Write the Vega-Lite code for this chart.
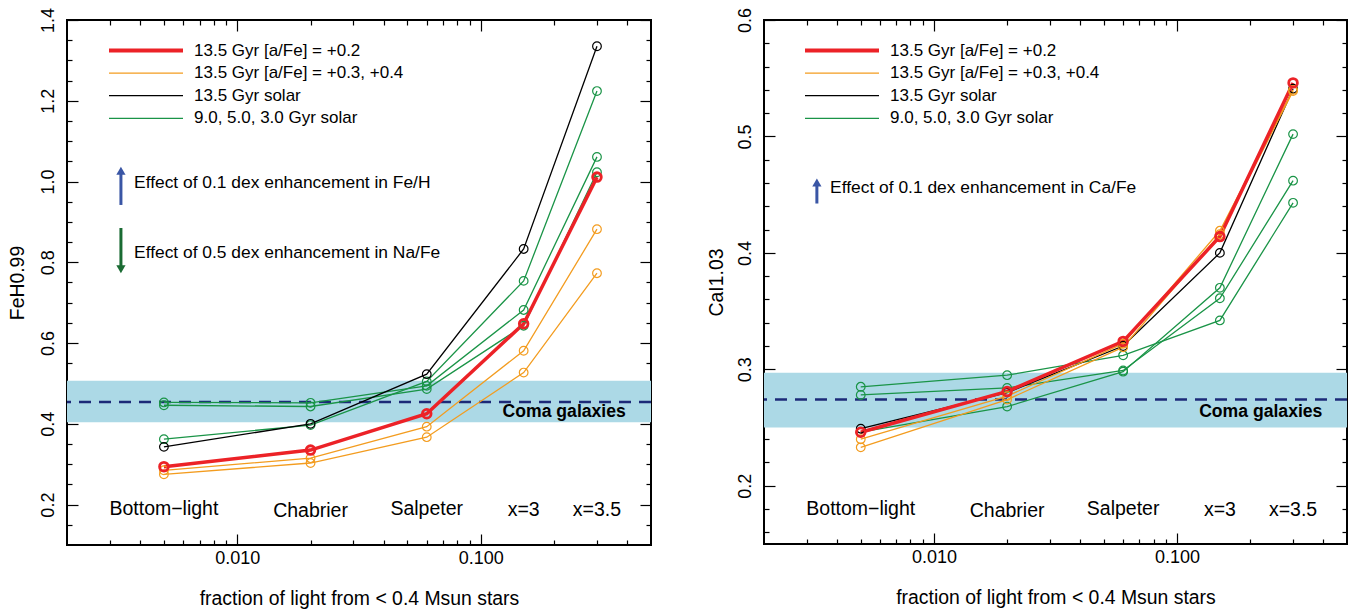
{
  "$schema": "https://vega.github.io/schema/vega-lite/v6.json",
  "background": "white",
  "padding": {"left": 6, "top": 6, "right": 5, "bottom": 5},
  "spacing": 51,
  "config": {
    "font": "Liberation Sans",
    "view": {"stroke": "black", "strokeWidth": 2},
    "axis": {"labelFont": "Liberation Sans", "titleFont": "Liberation Sans", "labelColor": "black", "titleColor": "black", "tickColor": "black", "tickWidth": 1.2, "domain": false, "grid": false, "titleFontWeight": "normal", "labelFontSize": 18, "titleFontSize": 19.4},
    "text": {"font": "Liberation Sans", "color": "black"}
  },
  "datasets": {
    "fehLines": [
      {"s": "g9", "m": "9.0, 5.0, 3.0 Gyr solar", "f": 0.005, "v": 0.362}, {"s": "g9", "m": "9.0, 5.0, 3.0 Gyr solar", "f": 0.02, "v": 0.397}, {"s": "g9", "m": "9.0, 5.0, 3.0 Gyr solar", "f": 0.06, "v": 0.505}, {"s": "g9", "m": "9.0, 5.0, 3.0 Gyr solar", "f": 0.15, "v": 0.754}, {"s": "g9", "m": "9.0, 5.0, 3.0 Gyr solar", "f": 0.3, "v": 1.224},
      {"s": "g5", "m": "9.0, 5.0, 3.0 Gyr solar", "f": 0.005, "v": 0.453}, {"s": "g5", "m": "9.0, 5.0, 3.0 Gyr solar", "f": 0.02, "v": 0.452}, {"s": "g5", "m": "9.0, 5.0, 3.0 Gyr solar", "f": 0.06, "v": 0.494}, {"s": "g5", "m": "9.0, 5.0, 3.0 Gyr solar", "f": 0.15, "v": 0.682}, {"s": "g5", "m": "9.0, 5.0, 3.0 Gyr solar", "f": 0.3, "v": 1.061},
      {"s": "g3", "m": "9.0, 5.0, 3.0 Gyr solar", "f": 0.005, "v": 0.446}, {"s": "g3", "m": "9.0, 5.0, 3.0 Gyr solar", "f": 0.02, "v": 0.443}, {"s": "g3", "m": "9.0, 5.0, 3.0 Gyr solar", "f": 0.06, "v": 0.486}, {"s": "g3", "m": "9.0, 5.0, 3.0 Gyr solar", "f": 0.15, "v": 0.643}, {"s": "g3", "m": "9.0, 5.0, 3.0 Gyr solar", "f": 0.3, "v": 1.023},
      {"s": "k", "m": "13.5 Gyr solar", "f": 0.005, "v": 0.343}, {"s": "k", "m": "13.5 Gyr solar", "f": 0.02, "v": 0.400}, {"s": "k", "m": "13.5 Gyr solar", "f": 0.06, "v": 0.523}, {"s": "k", "m": "13.5 Gyr solar", "f": 0.15, "v": 0.833}, {"s": "k", "m": "13.5 Gyr solar", "f": 0.3, "v": 1.335},
      {"s": "o1", "m": "13.5 Gyr [a/Fe] = +0.3, +0.4", "f": 0.005, "v": 0.285}, {"s": "o1", "m": "13.5 Gyr [a/Fe] = +0.3, +0.4", "f": 0.02, "v": 0.315}, {"s": "o1", "m": "13.5 Gyr [a/Fe] = +0.3, +0.4", "f": 0.06, "v": 0.393}, {"s": "o1", "m": "13.5 Gyr [a/Fe] = +0.3, +0.4", "f": 0.15, "v": 0.581}, {"s": "o1", "m": "13.5 Gyr [a/Fe] = +0.3, +0.4", "f": 0.3, "v": 0.882},
      {"s": "o2", "m": "13.5 Gyr [a/Fe] = +0.3, +0.4", "f": 0.005, "v": 0.275}, {"s": "o2", "m": "13.5 Gyr [a/Fe] = +0.3, +0.4", "f": 0.02, "v": 0.303}, {"s": "o2", "m": "13.5 Gyr [a/Fe] = +0.3, +0.4", "f": 0.06, "v": 0.367}, {"s": "o2", "m": "13.5 Gyr [a/Fe] = +0.3, +0.4", "f": 0.15, "v": 0.527}, {"s": "o2", "m": "13.5 Gyr [a/Fe] = +0.3, +0.4", "f": 0.3, "v": 0.773},
      {"s": "r", "m": "13.5 Gyr [a/Fe] = +0.2", "f": 0.005, "v": 0.294}, {"s": "r", "m": "13.5 Gyr [a/Fe] = +0.2", "f": 0.02, "v": 0.335}, {"s": "r", "m": "13.5 Gyr [a/Fe] = +0.2", "f": 0.06, "v": 0.425}, {"s": "r", "m": "13.5 Gyr [a/Fe] = +0.2", "f": 0.15, "v": 0.648}, {"s": "r", "m": "13.5 Gyr [a/Fe] = +0.2", "f": 0.3, "v": 1.011}
    ],
    "caiLines": [
      {"s": "g9", "m": "9.0, 5.0, 3.0 Gyr solar", "f": 0.005, "v": 0.246}, {"s": "g9", "m": "9.0, 5.0, 3.0 Gyr solar", "f": 0.02, "v": 0.268}, {"s": "g9", "m": "9.0, 5.0, 3.0 Gyr solar", "f": 0.06, "v": 0.298}, {"s": "g9", "m": "9.0, 5.0, 3.0 Gyr solar", "f": 0.15, "v": 0.370}, {"s": "g9", "m": "9.0, 5.0, 3.0 Gyr solar", "f": 0.3, "v": 0.502},
      {"s": "g5", "m": "9.0, 5.0, 3.0 Gyr solar", "f": 0.005, "v": 0.278}, {"s": "g5", "m": "9.0, 5.0, 3.0 Gyr solar", "f": 0.02, "v": 0.284}, {"s": "g5", "m": "9.0, 5.0, 3.0 Gyr solar", "f": 0.06, "v": 0.299}, {"s": "g5", "m": "9.0, 5.0, 3.0 Gyr solar", "f": 0.15, "v": 0.361}, {"s": "g5", "m": "9.0, 5.0, 3.0 Gyr solar", "f": 0.3, "v": 0.462},
      {"s": "g3", "m": "9.0, 5.0, 3.0 Gyr solar", "f": 0.005, "v": 0.285}, {"s": "g3", "m": "9.0, 5.0, 3.0 Gyr solar", "f": 0.02, "v": 0.295}, {"s": "g3", "m": "9.0, 5.0, 3.0 Gyr solar", "f": 0.06, "v": 0.312}, {"s": "g3", "m": "9.0, 5.0, 3.0 Gyr solar", "f": 0.15, "v": 0.342}, {"s": "g3", "m": "9.0, 5.0, 3.0 Gyr solar", "f": 0.3, "v": 0.443},
      {"s": "k", "m": "13.5 Gyr solar", "f": 0.005, "v": 0.249}, {"s": "k", "m": "13.5 Gyr solar", "f": 0.02, "v": 0.280}, {"s": "k", "m": "13.5 Gyr solar", "f": 0.06, "v": 0.320}, {"s": "k", "m": "13.5 Gyr solar", "f": 0.15, "v": 0.400}, {"s": "k", "m": "13.5 Gyr solar", "f": 0.3, "v": 0.541},
      {"s": "o1", "m": "13.5 Gyr [a/Fe] = +0.3, +0.4", "f": 0.005, "v": 0.240}, {"s": "o1", "m": "13.5 Gyr [a/Fe] = +0.3, +0.4", "f": 0.02, "v": 0.277}, {"s": "o1", "m": "13.5 Gyr [a/Fe] = +0.3, +0.4", "f": 0.06, "v": 0.322}, {"s": "o1", "m": "13.5 Gyr [a/Fe] = +0.3, +0.4", "f": 0.15, "v": 0.419}, {"s": "o1", "m": "13.5 Gyr [a/Fe] = +0.3, +0.4", "f": 0.3, "v": 0.540},
      {"s": "o2", "m": "13.5 Gyr [a/Fe] = +0.3, +0.4", "f": 0.005, "v": 0.233}, {"s": "o2", "m": "13.5 Gyr [a/Fe] = +0.3, +0.4", "f": 0.02, "v": 0.274}, {"s": "o2", "m": "13.5 Gyr [a/Fe] = +0.3, +0.4", "f": 0.06, "v": 0.319}, {"s": "o2", "m": "13.5 Gyr [a/Fe] = +0.3, +0.4", "f": 0.15, "v": 0.416}, {"s": "o2", "m": "13.5 Gyr [a/Fe] = +0.3, +0.4", "f": 0.3, "v": 0.539},
      {"s": "r", "m": "13.5 Gyr [a/Fe] = +0.2", "f": 0.005, "v": 0.246}, {"s": "r", "m": "13.5 Gyr [a/Fe] = +0.2", "f": 0.02, "v": 0.281}, {"s": "r", "m": "13.5 Gyr [a/Fe] = +0.2", "f": 0.06, "v": 0.324}, {"s": "r", "m": "13.5 Gyr [a/Fe] = +0.2", "f": 0.15, "v": 0.414}, {"s": "r", "m": "13.5 Gyr [a/Fe] = +0.2", "f": 0.3, "v": 0.546}
    ],
    "fehComa": [{"lo": 0.404, "mid": 0.454, "hi": 0.507, "f": 0.394, "v": 0.429, "t": "Coma galaxies"}],
    "caiComa": [{"lo": 0.250, "mid": 0.274, "hi": 0.297, "f": 0.396, "v": 0.263, "t": "Coma galaxies"}],
    "fehImf": [
      {"f": 0.005, "v": 0.188, "t": "Bottom−light"}, {"f": 0.02, "v": 0.183, "t": "Chabrier"}, {"f": 0.06, "v": 0.188, "t": "Salpeter"}, {"f": 0.15, "v": 0.186, "t": "x=3"}, {"f": 0.3, "v": 0.186, "t": "x=3.5"}
    ],
    "caiImf": [
      {"f": 0.005, "v": 0.180, "t": "Bottom−light"}, {"f": 0.02, "v": 0.178, "t": "Chabrier"}, {"f": 0.06, "v": 0.180, "t": "Salpeter"}, {"f": 0.15, "v": 0.179, "t": "x=3"}, {"f": 0.3, "v": 0.179, "t": "x=3.5"}
    ],
    "fehEffect": [
      {"f": 0.00377, "v": 0.996, "t": "Effect of 0.1 dex enhancement in Fe/H"},
      {"f": 0.00377, "v": 0.8235, "t": "Effect of 0.5 dex enhancement in Na/Fe"}
    ],
    "caiEffect": [{"f": 0.00374, "v": 0.4554, "t": "Effect of 0.1 dex enhancement in Ca/Fe"}],
    "fehBlueArrow": [{"f": 0.00333, "lo": 0.942, "hi": 1.025, "head": 1.027}],
    "fehGreenArrow": [{"f": 0.00333, "lo": 0.786, "hi": 0.885, "head": 0.783}],
    "caiBlueArrow": [{"f": 0.0033, "lo": 0.4424, "hi": 0.4595, "head": 0.4605}]
  },
  "hconcat": [
    {
      "width": 584,
      "height": 525,
      "resolve": {"scale": {"x": "independent", "y": "independent"}},
      "layer": [
        {
          "data": {"name": "fehComa"},
          "mark": {"type": "rect", "color": "#acd9e6"},
          "encoding": {
            "x": {"datum": 0.002, "type": "quantitative", "scale": {"type": "log", "domain": [0.002, 0.5], "nice": false}, "axis": null},
            "x2": {"datum": 0.5},
            "y": {"field": "lo", "type": "quantitative", "scale": {"domain": [0.1, 1.4], "nice": false, "zero": false}, "axis": null},
            "y2": {"field": "hi"}
          }
        },
        {
          "data": {"name": "fehComa"},
          "mark": {"type": "rule", "color": "#1c2a78", "strokeWidth": 2.5, "strokeDash": [12, 8]},
          "encoding": {
            "y": {"field": "mid", "type": "quantitative", "scale": {"domain": [0.1, 1.4], "nice": false, "zero": false}, "axis": null}
          }
        },
        {
          "data": {"name": "fehLines"},
          "transform": [{"filter": "datum.s != 'r'"}],
          "mark": {"type": "line", "strokeWidth": 1.3},
          "encoding": {
            "x": {"field": "f", "type": "quantitative", "scale": {"type": "log", "domain": [0.002, 0.5], "nice": false},
                  "axis": {"orient": "bottom", "values": [0.01, 0.1], "format": ".3f", "tickSize": -11, "labelPadding": 15, "title": "fraction of light from < 0.4 Msun stars", "titlePadding": 22}},
            "y": {"field": "v", "type": "quantitative", "scale": {"domain": [0.1, 1.4], "nice": false, "zero": false},
                  "axis": {"orient": "left", "values": [0.2, 0.4, 0.6, 0.8, 1.0, 1.2, 1.4], "format": ".1f", "labelAngle": -90, "tickSize": -11, "labelPadding": 21, "title": "FeH0.99", "titlePadding": 12}},
            "color": {"field": "m", "type": "nominal",
                      "scale": {"domain": ["13.5 Gyr [a/Fe] = +0.2", "13.5 Gyr [a/Fe] = +0.3, +0.4", "13.5 Gyr solar", "9.0, 5.0, 3.0 Gyr solar"], "range": ["#ec2227", "#f39c1f", "#000000", "#1a9447"]},
                      "legend": {"orient": "none", "legendX": 41, "legendY": 22, "title": null, "symbolType": "stroke", "symbolSize": 5476, "symbolStrokeWidth": 1.3, "labelFontSize": 17, "labelFont": "Liberation Sans", "labelColor": "black", "labelOffset": 10, "clipHeight": 17, "rowPadding": 4.6, "padding": 0, "labelLimit": 400,
                                 "encode": {"symbols": {"update": {"strokeWidth": {"signal": "(datum.value === '13.5 Gyr [a/Fe] = +0.2' ? 3.8 : 1.3)"}}}}}},
            "detail": {"field": "s"}
          }
        },
        {
          "data": {"name": "fehLines"},
          "transform": [{"filter": "datum.s == 'r'"}],
          "mark": {"type": "line", "strokeWidth": 3.5},
          "encoding": {
            "x": {"field": "f", "type": "quantitative", "scale": {"type": "log", "domain": [0.002, 0.5], "nice": false}, "axis": null},
            "y": {"field": "v", "type": "quantitative", "scale": {"domain": [0.1, 1.4], "nice": false, "zero": false}, "axis": null},
            "color": {"field": "m", "type": "nominal"}
          }
        },
        {
          "data": {"name": "fehLines"},
          "transform": [{"filter": "datum.s != 'r'"}],
          "mark": {"type": "point", "shape": "circle", "filled": false, "size": 75, "strokeWidth": 1.2, "opacity": 1},
          "encoding": {
            "x": {"field": "f", "type": "quantitative", "scale": {"type": "log", "domain": [0.002, 0.5], "nice": false},
                  "axis": {"orient": "top", "values": [0.01, 0.1], "labels": false, "tickSize": -11, "title": null}},
            "y": {"field": "v", "type": "quantitative", "scale": {"domain": [0.1, 1.4], "nice": false, "zero": false},
                  "axis": {"orient": "right", "values": [0.2, 0.4, 0.6, 0.8, 1.0, 1.2, 1.4], "labels": false, "tickSize": -11, "title": null}},
            "color": {"field": "m", "type": "nominal"}
          }
        },
        {
          "data": {"name": "fehLines"},
          "transform": [{"filter": "datum.s == 'r'"}],
          "mark": {"type": "point", "shape": "circle", "filled": false, "size": 75, "strokeWidth": 2.8, "opacity": 1},
          "encoding": {
            "x": {"field": "f", "type": "quantitative", "scale": {"type": "log", "domain": [0.002, 0.5], "nice": false}, "axis": null},
            "y": {"field": "v", "type": "quantitative", "scale": {"domain": [0.1, 1.4], "nice": false, "zero": false}, "axis": null},
            "color": {"field": "m", "type": "nominal"}
          }
        },
        {
          "data": {"name": "fehImf"},
          "mark": {"type": "text", "fontSize": 19.5, "align": "center", "baseline": "middle"},
          "encoding": {
            "x": {"field": "f", "type": "quantitative", "scale": {"type": "log", "domain": [0.002, 0.5], "nice": false},
                  "axis": {"orient": "bottom", "values": [0.003, 0.004, 0.005, 0.006, 0.007, 0.008, 0.009, 0.02, 0.03, 0.04, 0.05, 0.06, 0.07, 0.08, 0.09, 0.2, 0.3, 0.4], "labels": false, "tickSize": -5, "title": null}},
            "y": {"field": "v", "type": "quantitative", "scale": {"domain": [0.1, 1.4], "nice": false, "zero": false},
                  "axis": {"orient": "left", "values": [0.15, 0.25, 0.3, 0.35, 0.45, 0.5, 0.55, 0.65, 0.7, 0.75, 0.85, 0.9, 0.95, 1.05, 1.1, 1.15, 1.25, 1.3, 1.35], "labels": false, "tickSize": -5, "title": null}},
            "text": {"field": "t"}
          }
        },
        {
          "data": {"name": "fehComa"},
          "mark": {"type": "text", "fontSize": 17.6, "fontWeight": "bold", "align": "right", "baseline": "middle"},
          "encoding": {
            "x": {"field": "f", "type": "quantitative", "scale": {"type": "log", "domain": [0.002, 0.5], "nice": false},
                  "axis": {"orient": "top", "values": [0.003, 0.004, 0.005, 0.006, 0.007, 0.008, 0.009, 0.02, 0.03, 0.04, 0.05, 0.06, 0.07, 0.08, 0.09, 0.2, 0.3, 0.4], "labels": false, "tickSize": -5, "title": null}},
            "y": {"field": "v", "type": "quantitative", "scale": {"domain": [0.1, 1.4], "nice": false, "zero": false},
                  "axis": {"orient": "right", "values": [0.15, 0.25, 0.3, 0.35, 0.45, 0.5, 0.55, 0.65, 0.7, 0.75, 0.85, 0.9, 0.95, 1.05, 1.1, 1.15, 1.25, 1.3, 1.35], "labels": false, "tickSize": -5, "title": null}},
            "text": {"field": "t"}
          }
        },
        {
          "data": {"name": "fehEffect"},
          "mark": {"type": "text", "fontSize": 17.4, "align": "left", "baseline": "middle"},
          "encoding": {
            "x": {"field": "f", "type": "quantitative", "scale": {"type": "log", "domain": [0.002, 0.5], "nice": false}, "axis": null},
            "y": {"field": "v", "type": "quantitative", "scale": {"domain": [0.1, 1.4], "nice": false, "zero": false}, "axis": null},
            "text": {"field": "t"}
          }
        },
        {
          "data": {"name": "fehBlueArrow"},
          "mark": {"type": "rule", "color": "#3a56a5", "strokeWidth": 3},
          "encoding": {
            "x": {"field": "f", "type": "quantitative", "scale": {"type": "log", "domain": [0.002, 0.5], "nice": false}, "axis": null},
            "y": {"field": "lo", "type": "quantitative", "scale": {"domain": [0.1, 1.4], "nice": false, "zero": false}, "axis": null},
            "y2": {"field": "hi"}
          }
        },
        {
          "data": {"name": "fehBlueArrow"},
          "mark": {"type": "point", "shape": "triangle-up", "filled": true, "size": 85, "color": "#3a56a5", "opacity": 1},
          "encoding": {
            "x": {"field": "f", "type": "quantitative", "scale": {"type": "log", "domain": [0.002, 0.5], "nice": false}, "axis": null},
            "y": {"field": "head", "type": "quantitative", "scale": {"domain": [0.1, 1.4], "nice": false, "zero": false}, "axis": null}
          }
        },
        {
          "data": {"name": "fehGreenArrow"},
          "mark": {"type": "rule", "color": "#1a6b33", "strokeWidth": 3},
          "encoding": {
            "x": {"field": "f", "type": "quantitative", "scale": {"type": "log", "domain": [0.002, 0.5], "nice": false}, "axis": null},
            "y": {"field": "lo", "type": "quantitative", "scale": {"domain": [0.1, 1.4], "nice": false, "zero": false}, "axis": null},
            "y2": {"field": "hi"}
          }
        },
        {
          "data": {"name": "fehGreenArrow"},
          "mark": {"type": "point", "shape": "triangle-down", "filled": true, "size": 85, "color": "#1a6b33", "opacity": 1},
          "encoding": {
            "x": {"field": "f", "type": "quantitative", "scale": {"type": "log", "domain": [0.002, 0.5], "nice": false}, "axis": null},
            "y": {"field": "head", "type": "quantitative", "scale": {"domain": [0.1, 1.4], "nice": false, "zero": false}, "axis": null}
          }
        }
      ]
    },
    {
      "width": 583,
      "height": 524,
      "resolve": {"scale": {"x": "independent", "y": "independent"}},
      "layer": [
        {
          "data": {"name": "caiComa"},
          "mark": {"type": "rect", "color": "#acd9e6"},
          "encoding": {
            "x": {"datum": 0.002, "type": "quantitative", "scale": {"type": "log", "domain": [0.002, 0.5], "nice": false}, "axis": null},
            "x2": {"datum": 0.5},
            "y": {"field": "lo", "type": "quantitative", "scale": {"domain": [0.15, 0.6], "nice": false, "zero": false}, "axis": null},
            "y2": {"field": "hi"}
          }
        },
        {
          "data": {"name": "caiComa"},
          "mark": {"type": "rule", "color": "#1c2a78", "strokeWidth": 2.5, "strokeDash": [12, 8]},
          "encoding": {
            "y": {"field": "mid", "type": "quantitative", "scale": {"domain": [0.15, 0.6], "nice": false, "zero": false}, "axis": null}
          }
        },
        {
          "data": {"name": "caiLines"},
          "transform": [{"filter": "datum.s != 'r'"}],
          "mark": {"type": "line", "strokeWidth": 1.3},
          "encoding": {
            "x": {"field": "f", "type": "quantitative", "scale": {"type": "log", "domain": [0.002, 0.5], "nice": false},
                  "axis": {"orient": "bottom", "values": [0.01, 0.1], "format": ".3f", "tickSize": -11, "labelPadding": 15, "title": "fraction of light from < 0.4 Msun stars", "titlePadding": 22}},
            "y": {"field": "v", "type": "quantitative", "scale": {"domain": [0.15, 0.6], "nice": false, "zero": false},
                  "axis": {"orient": "left", "values": [0.2, 0.3, 0.4, 0.5, 0.6], "format": ".1f", "labelAngle": -90, "tickSize": -11, "labelPadding": 21, "title": "CaI1.03", "titlePadding": 10}},
            "color": {"field": "m", "type": "nominal",
                      "scale": {"domain": ["13.5 Gyr [a/Fe] = +0.2", "13.5 Gyr [a/Fe] = +0.3, +0.4", "13.5 Gyr solar", "9.0, 5.0, 3.0 Gyr solar"], "range": ["#ec2227", "#f39c1f", "#000000", "#1a9447"]},
                      "legend": {"orient": "none", "legendX": 40, "legendY": 22, "title": null, "symbolType": "stroke", "symbolSize": 5476, "symbolStrokeWidth": 1.3, "labelFontSize": 17, "labelFont": "Liberation Sans", "labelColor": "black", "labelOffset": 10, "clipHeight": 17, "rowPadding": 4.6, "padding": 0, "labelLimit": 400,
                                 "encode": {"symbols": {"update": {"strokeWidth": {"signal": "(datum.value === '13.5 Gyr [a/Fe] = +0.2' ? 3.8 : 1.3)"}}}}}},
            "detail": {"field": "s"}
          }
        },
        {
          "data": {"name": "caiLines"},
          "transform": [{"filter": "datum.s == 'r'"}],
          "mark": {"type": "line", "strokeWidth": 3.5},
          "encoding": {
            "x": {"field": "f", "type": "quantitative", "scale": {"type": "log", "domain": [0.002, 0.5], "nice": false}, "axis": null},
            "y": {"field": "v", "type": "quantitative", "scale": {"domain": [0.15, 0.6], "nice": false, "zero": false}, "axis": null},
            "color": {"field": "m", "type": "nominal"}
          }
        },
        {
          "data": {"name": "caiLines"},
          "transform": [{"filter": "datum.s != 'r'"}],
          "mark": {"type": "point", "shape": "circle", "filled": false, "size": 75, "strokeWidth": 1.2, "opacity": 1},
          "encoding": {
            "x": {"field": "f", "type": "quantitative", "scale": {"type": "log", "domain": [0.002, 0.5], "nice": false},
                  "axis": {"orient": "top", "values": [0.01, 0.1], "labels": false, "tickSize": -11, "title": null}},
            "y": {"field": "v", "type": "quantitative", "scale": {"domain": [0.15, 0.6], "nice": false, "zero": false},
                  "axis": {"orient": "right", "values": [0.2, 0.3, 0.4, 0.5, 0.6], "labels": false, "tickSize": -11, "title": null}},
            "color": {"field": "m", "type": "nominal"}
          }
        },
        {
          "data": {"name": "caiLines"},
          "transform": [{"filter": "datum.s == 'r'"}],
          "mark": {"type": "point", "shape": "circle", "filled": false, "size": 75, "strokeWidth": 2.8, "opacity": 1},
          "encoding": {
            "x": {"field": "f", "type": "quantitative", "scale": {"type": "log", "domain": [0.002, 0.5], "nice": false}, "axis": null},
            "y": {"field": "v", "type": "quantitative", "scale": {"domain": [0.15, 0.6], "nice": false, "zero": false}, "axis": null},
            "color": {"field": "m", "type": "nominal"}
          }
        },
        {
          "data": {"name": "caiImf"},
          "mark": {"type": "text", "fontSize": 19.5, "align": "center", "baseline": "middle"},
          "encoding": {
            "x": {"field": "f", "type": "quantitative", "scale": {"type": "log", "domain": [0.002, 0.5], "nice": false},
                  "axis": {"orient": "bottom", "values": [0.003, 0.004, 0.005, 0.006, 0.007, 0.008, 0.009, 0.02, 0.03, 0.04, 0.05, 0.06, 0.07, 0.08, 0.09, 0.2, 0.3, 0.4], "labels": false, "tickSize": -5, "title": null}},
            "y": {"field": "v", "type": "quantitative", "scale": {"domain": [0.15, 0.6], "nice": false, "zero": false},
                  "axis": {"orient": "left", "values": [0.16, 0.18, 0.22, 0.24, 0.26, 0.28, 0.32, 0.34, 0.36, 0.38, 0.42, 0.44, 0.46, 0.48, 0.52, 0.54, 0.56, 0.58], "labels": false, "tickSize": -5, "title": null}},
            "text": {"field": "t"}
          }
        },
        {
          "data": {"name": "caiComa"},
          "mark": {"type": "text", "fontSize": 17.6, "fontWeight": "bold", "align": "right", "baseline": "middle"},
          "encoding": {
            "x": {"field": "f", "type": "quantitative", "scale": {"type": "log", "domain": [0.002, 0.5], "nice": false},
                  "axis": {"orient": "top", "values": [0.003, 0.004, 0.005, 0.006, 0.007, 0.008, 0.009, 0.02, 0.03, 0.04, 0.05, 0.06, 0.07, 0.08, 0.09, 0.2, 0.3, 0.4], "labels": false, "tickSize": -5, "title": null}},
            "y": {"field": "v", "type": "quantitative", "scale": {"domain": [0.15, 0.6], "nice": false, "zero": false},
                  "axis": {"orient": "right", "values": [0.16, 0.18, 0.22, 0.24, 0.26, 0.28, 0.32, 0.34, 0.36, 0.38, 0.42, 0.44, 0.46, 0.48, 0.52, 0.54, 0.56, 0.58], "labels": false, "tickSize": -5, "title": null}},
            "text": {"field": "t"}
          }
        },
        {
          "data": {"name": "caiEffect"},
          "mark": {"type": "text", "fontSize": 17.4, "align": "left", "baseline": "middle"},
          "encoding": {
            "x": {"field": "f", "type": "quantitative", "scale": {"type": "log", "domain": [0.002, 0.5], "nice": false}, "axis": null},
            "y": {"field": "v", "type": "quantitative", "scale": {"domain": [0.15, 0.6], "nice": false, "zero": false}, "axis": null},
            "text": {"field": "t"}
          }
        },
        {
          "data": {"name": "caiBlueArrow"},
          "mark": {"type": "rule", "color": "#3a56a5", "strokeWidth": 3},
          "encoding": {
            "x": {"field": "f", "type": "quantitative", "scale": {"type": "log", "domain": [0.002, 0.5], "nice": false}, "axis": null},
            "y": {"field": "lo", "type": "quantitative", "scale": {"domain": [0.15, 0.6], "nice": false, "zero": false}, "axis": null},
            "y2": {"field": "hi"}
          }
        },
        {
          "data": {"name": "caiBlueArrow"},
          "mark": {"type": "point", "shape": "triangle-up", "filled": true, "size": 85, "color": "#3a56a5", "opacity": 1},
          "encoding": {
            "x": {"field": "f", "type": "quantitative", "scale": {"type": "log", "domain": [0.002, 0.5], "nice": false}, "axis": null},
            "y": {"field": "head", "type": "quantitative", "scale": {"domain": [0.15, 0.6], "nice": false, "zero": false}, "axis": null}
          }
        }
      ]
    }
  ],
  "resolve": {
    "scale": {"color": "independent"},
    "legend": {"color": "independent"}
  }
}
